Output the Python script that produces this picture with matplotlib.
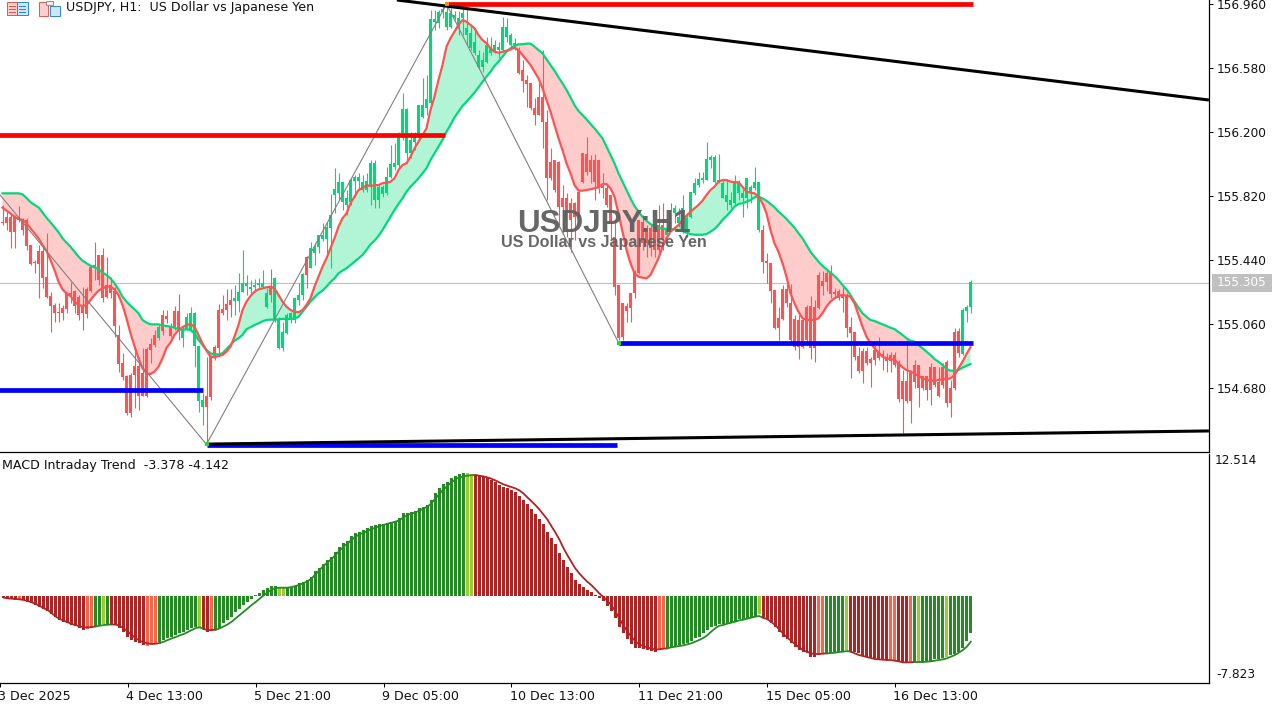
import numpy as np
import matplotlib
matplotlib.use("Agg")
import matplotlib.pyplot as plt
from matplotlib.patches import Rectangle
from matplotlib.transforms import ScaledTranslation

highs = [
155.767,155.725,155.719,155.707,155.761,155.690,155.690,155.529,155.440,155.529,
155.517,155.600,155.250,155.185,155.185,155.173,155.250,155.309,155.262,155.232,
155.280,155.280,155.410,155.547,155.470,155.511,155.458,155.339,155.280,155.054,
154.888,154.757,154.769,154.924,154.864,154.918,154.924,154.977,155.024,155.054,
155.143,155.143,155.066,155.167,155.238,155.042,155.125,155.161,155.131,154.930,
154.650,154.864,154.876,154.935,155.179,155.232,155.268,155.268,155.292,155.363,
155.500,155.351,155.321,155.327,155.333,155.381,155.274,155.387,155.339,155.102,
155.072,155.125,155.131,155.214,155.304,155.363,155.464,155.547,155.541,155.589,
155.660,155.666,155.832,155.986,155.957,155.903,155.856,155.927,155.945,155.957,
155.945,155.957,156.034,156.034,155.885,155.885,155.992,156.123,156.135,156.200,
156.432,156.343,156.200,156.200,156.361,156.521,156.539,156.925,156.925,156.925,
156.948,156.954,156.936,156.919,156.919,156.931,156.931,156.836,156.806,156.687,
156.675,156.764,156.764,156.746,156.735,156.883,156.877,156.788,156.758,156.705,
156.628,156.539,156.491,156.402,156.491,156.687,156.331,156.105,156.034,156.028,
155.885,155.838,155.808,155.784,155.856,156.075,156.171,156.064,156.069,156.034,
155.957,155.885,155.826,155.678,155.292,155.185,155.185,155.244,155.381,155.678,
155.707,155.648,155.648,155.630,155.767,155.779,155.666,155.779,155.767,155.749,
155.826,155.719,155.844,155.927,155.963,155.963,156.141,156.064,156.064,156.069,
155.915,155.915,155.844,155.945,155.915,155.868,155.927,155.885,155.992,155.903,
155.648,155.482,155.422,155.262,155.161,155.292,155.298,155.298,155.113,155.113,
155.084,155.173,155.226,155.203,155.369,155.375,155.381,155.410,155.274,155.268,
155.280,155.244,155.102,155.012,154.924,154.918,154.924,154.864,154.947,154.983,
154.906,154.888,154.894,154.894,154.846,154.787,154.965,154.787,154.846,154.817,
154.751,154.751,154.829,154.805,154.805,154.829,154.846,154.728,155.036,155.036,
155.155,155.173,155.321]

body_tops = [
155.666,155.695,155.695,155.695,155.695,155.678,155.678,155.529,155.428,155.494,
155.494,155.339,155.226,155.173,155.131,155.155,155.244,155.244,155.256,155.220,
155.173,155.268,155.399,155.410,155.470,155.470,155.292,155.292,155.256,154.995,
154.829,154.751,154.757,154.811,154.811,154.769,154.912,154.941,154.995,155.042,
155.113,155.107,155.042,155.137,155.137,155.030,155.102,155.125,155.125,154.930,
154.609,154.633,154.870,154.924,155.143,155.149,155.179,155.203,155.214,155.250,
155.304,155.304,155.280,155.292,155.304,155.304,155.244,155.280,155.333,155.084,
155.012,155.113,155.125,155.214,155.232,155.357,155.458,155.511,155.517,155.589,
155.589,155.636,155.707,155.862,155.903,155.903,155.808,155.915,155.933,155.933,
155.903,155.909,156.016,156.016,155.874,155.874,155.933,156.010,156.016,156.171,
156.337,156.337,156.153,156.176,156.361,156.361,156.396,156.871,156.871,156.913,
156.931,156.913,156.907,156.895,156.877,156.907,156.818,156.788,156.735,156.657,
156.628,156.717,156.699,156.717,156.705,156.824,156.824,156.776,156.729,156.687,
156.568,156.509,156.491,156.343,156.408,156.408,156.260,156.022,156.034,156.022,
155.808,155.808,155.779,155.779,155.844,156.075,156.069,156.034,156.034,156.034,
155.879,155.868,155.826,155.577,155.292,155.185,155.167,155.244,155.369,155.678,
155.666,155.606,155.630,155.606,155.648,155.648,155.618,155.719,155.749,155.695,
155.749,155.690,155.844,155.897,155.921,155.927,156.040,156.052,156.052,155.915,
155.897,155.826,155.796,155.897,155.897,155.838,155.927,155.874,155.903,155.903,
155.618,155.434,155.422,155.262,155.096,155.268,155.268,155.185,155.090,155.084,
155.084,155.161,155.167,155.161,155.351,155.315,155.363,155.363,155.250,155.256,
155.232,155.232,155.042,155.012,154.870,154.900,154.900,154.852,154.906,154.894,
154.882,154.864,154.876,154.876,154.835,154.722,154.722,154.781,154.817,154.817,
154.751,154.751,154.805,154.805,154.716,154.805,154.835,154.680,155.012,155.018,
155.143,155.161,155.309]

body_bottoms = [
155.660,155.660,155.606,155.606,155.678,155.618,155.523,155.416,155.422,155.416,
155.333,155.221,155.167,155.125,155.125,155.125,155.149,155.232,155.167,155.113,
155.125,155.119,155.256,155.399,155.321,155.214,155.221,155.244,155.048,154.823,
154.745,154.532,154.532,154.757,154.633,154.633,154.633,154.906,154.935,154.977,
155.018,155.090,154.989,155.036,155.030,154.977,155.030,155.024,154.930,154.603,
154.567,154.567,154.627,154.858,154.918,155.125,155.143,155.173,155.197,155.197,
155.250,155.286,155.268,155.280,155.292,155.280,155.161,155.232,155.084,154.918,
154.918,155.006,155.084,155.084,155.203,155.232,155.351,155.393,155.482,155.517,
155.565,155.565,155.630,155.826,155.838,155.784,155.767,155.784,155.909,155.909,
155.856,155.856,155.874,155.796,155.796,155.832,155.838,155.933,155.992,156.004,
156.171,156.075,156.075,156.141,156.171,156.289,156.343,156.372,156.853,156.847,
156.913,156.824,156.824,156.877,156.824,156.877,156.776,156.699,156.669,156.586,
156.586,156.616,156.669,156.675,156.687,156.687,156.764,156.717,156.699,156.551,
156.503,156.485,156.343,156.301,156.301,156.260,155.927,155.927,155.856,155.755,
155.755,155.678,155.678,155.695,155.695,155.903,155.963,155.963,155.903,155.868,
155.868,155.767,155.660,155.280,154.977,154.983,155.137,155.155,155.244,155.363,
155.541,155.541,155.511,155.500,155.500,155.559,155.588,155.630,155.719,155.660,
155.618,155.618,155.695,155.838,155.885,155.915,155.915,156.034,155.903,155.903,
155.808,155.784,155.767,155.779,155.838,155.808,155.808,155.838,155.868,155.618,
155.428,155.422,155.256,155.036,155.036,155.090,155.185,154.965,154.924,154.924,
154.924,154.965,154.918,154.918,155.155,155.286,155.309,155.238,155.238,155.214,
155.214,155.036,155.006,154.864,154.781,154.781,154.829,154.829,154.846,154.858,
154.864,154.840,154.840,154.817,154.615,154.615,154.603,154.603,154.716,154.680,
154.680,154.668,154.668,154.698,154.633,154.698,154.591,154.591,154.680,154.888,
154.882,155.137,155.161]

lows = [
155.648,155.618,155.511,155.511,155.666,155.588,155.500,155.410,155.363,155.214,
155.274,155.214,155.012,155.072,155.072,155.084,155.125,155.185,155.125,155.084,
155.024,155.095,155.250,155.321,155.292,155.191,155.214,155.214,154.983,154.775,
154.728,154.520,154.508,154.561,154.549,154.633,154.627,154.829,154.924,154.965,
154.995,155.066,154.983,155.024,154.965,154.924,155.024,155.012,154.805,154.538,
154.460,154.353,154.609,154.846,154.888,155.113,155.084,155.102,155.113,155.131,
155.250,155.232,155.244,155.250,155.274,155.274,155.155,155.191,155.072,154.912,
154.900,155.000,155.066,155.066,155.173,155.203,155.274,155.393,155.410,155.482,
155.553,155.482,155.393,155.719,155.796,155.737,155.707,155.767,155.814,155.856,
155.844,155.844,155.767,155.749,155.749,155.814,155.826,155.927,155.975,155.986,
156.153,156.016,156.046,156.093,156.165,156.283,156.301,156.361,156.806,156.818,
156.877,156.806,156.818,156.865,156.776,156.776,156.717,156.687,156.657,156.580,
156.556,156.610,156.657,156.669,156.640,156.675,156.735,156.687,156.687,156.545,
156.438,156.349,156.331,156.242,156.301,156.105,155.796,155.915,155.844,155.636,
155.600,155.577,155.488,155.559,155.695,155.897,155.945,155.897,155.796,155.838,
155.808,155.755,155.559,155.232,154.965,154.965,155.072,155.072,155.214,155.357,
155.500,155.458,155.464,155.458,155.464,155.500,155.577,155.618,155.660,155.636,
155.600,155.577,155.690,155.826,155.874,155.897,155.915,155.986,155.897,155.897,
155.808,155.737,155.749,155.767,155.796,155.695,155.749,155.779,155.856,155.606,
155.363,155.304,155.185,155.030,154.965,155.084,155.161,154.953,154.906,154.852,
154.918,154.935,154.852,154.835,155.149,155.232,155.256,155.214,155.214,155.203,
155.131,154.983,154.739,154.846,154.769,154.710,154.817,154.686,154.817,154.846,
154.787,154.775,154.775,154.805,154.597,154.413,154.591,154.472,154.680,154.567,
154.668,154.609,154.579,154.686,154.627,154.680,154.567,154.508,154.668,154.864,
154.876,155.072,155.125]

# spans of bullish candles (first, last)
up_spans = [(39,39),(45,50),(58,66),(68,75),(77,128),(166,166),(168,189),(240,242)]

fast_ma = [
155.751,155.733,155.717,155.697,155.684,155.678,155.658,155.628,155.599,155.569,
155.529,155.494,155.440,155.381,155.311,155.266,155.242,155.226,155.193,155.173,
155.167,155.173,155.203,155.232,155.258,155.272,155.282,155.282,155.266,155.232,
155.173,155.094,155.005,154.929,154.856,154.797,154.767,154.763,154.777,154.806,
154.856,154.919,154.949,154.995,155.024,155.041,155.054,155.060,155.044,154.995,
154.945,154.902,154.866,154.862,154.870,154.876,154.896,154.925,154.985,155.054,
155.143,155.193,155.226,155.252,155.266,155.272,155.278,155.282,155.272,155.232,
155.193,155.163,155.143,155.133,155.130,155.143,155.173,155.213,155.282,155.341,
155.400,155.450,155.510,155.569,155.638,155.688,155.717,155.777,155.816,155.856,
155.866,155.885,155.879,155.885,155.885,155.896,155.899,155.905,155.925,155.975,
156.004,156.014,156.054,156.103,156.143,156.182,156.222,156.331,156.410,156.509,
156.598,156.707,156.757,156.796,156.836,156.865,156.855,156.836,156.816,156.776,
156.746,156.727,156.697,156.677,156.671,156.677,156.683,156.691,156.701,156.687,
156.657,156.628,156.598,156.558,156.519,156.460,156.390,156.321,156.242,156.163,
156.093,156.014,155.955,155.885,155.852,155.852,155.856,155.860,155.866,155.872,
155.891,155.891,155.866,155.816,155.717,155.608,155.500,155.421,155.361,155.341,
155.335,155.331,155.351,155.400,155.450,155.519,155.569,155.608,155.628,155.648,
155.678,155.703,155.727,155.747,155.767,155.792,155.826,155.856,155.875,155.905,
155.915,155.915,155.905,155.903,155.901,155.875,155.846,155.840,155.836,155.816,
155.777,155.717,155.618,155.539,155.489,155.421,155.341,155.242,155.183,155.133,
155.094,155.084,155.084,155.084,155.094,155.124,155.163,155.193,155.213,155.228,
155.232,155.228,155.222,155.183,155.113,155.044,154.985,154.945,154.916,154.890,
154.866,154.856,154.852,154.846,154.827,154.803,154.787,154.777,154.767,154.751,
154.738,154.728,154.723,154.723,154.728,154.732,154.732,154.738,154.757,154.797,
154.836,154.882,154.922]

slow_ma = [
155.836,155.836,155.836,155.836,155.836,155.830,155.808,155.784,155.767,155.753,
155.723,155.691,155.664,155.634,155.605,155.569,155.543,155.519,155.489,155.460,
155.436,155.421,155.406,155.397,155.385,155.365,155.351,155.331,155.302,155.266,
155.222,155.193,155.169,155.147,155.124,155.084,155.068,155.058,155.058,155.058,
155.052,155.048,155.044,155.038,155.030,155.024,155.029,155.024,155.005,154.965,
154.935,154.906,154.886,154.880,154.880,154.886,154.912,154.935,154.961,154.975,
154.995,155.029,155.041,155.054,155.064,155.076,155.084,155.086,155.086,155.088,
155.090,155.090,155.090,155.092,155.103,155.133,155.163,155.193,155.219,155.242,
155.258,155.282,155.309,155.331,155.361,155.377,155.391,155.410,155.430,155.450,
155.470,155.500,155.533,155.555,155.583,155.618,155.658,155.697,155.737,155.773,
155.806,155.846,155.875,155.899,155.925,155.955,155.985,156.034,156.074,156.113,
156.153,156.202,156.242,156.287,156.321,156.355,156.380,156.406,156.434,156.466,
156.499,156.529,156.558,156.592,156.618,156.647,156.677,156.697,156.711,156.721,
156.721,156.725,156.725,156.707,156.687,156.668,156.632,156.598,156.564,156.525,
156.489,156.450,156.406,156.360,156.325,156.301,156.276,156.248,156.222,156.192,
156.163,156.113,156.064,156.014,155.955,155.905,155.856,155.806,155.761,155.727,
155.697,155.672,155.654,155.638,155.632,155.628,155.624,155.622,155.622,155.618,
155.612,155.602,155.594,155.590,155.590,155.590,155.594,155.608,155.624,155.648,
155.678,155.701,155.727,155.757,155.773,155.777,155.786,155.796,155.812,155.816,
155.806,155.792,155.773,155.753,155.727,155.707,155.684,155.658,155.632,155.599,
155.569,155.529,155.489,155.460,155.430,155.405,155.385,155.365,155.345,155.321,
155.292,155.266,155.232,155.193,155.157,155.124,155.103,155.084,155.078,155.068,
155.058,155.048,155.038,155.030,155.012,154.995,154.975,154.961,154.955,154.935,
154.916,154.896,154.876,154.852,154.836,154.817,154.793,154.783,154.783,154.787,
154.801,154.812,154.822]

macd_hist = [
-0.24,-0.30,-0.33,-0.36,-0.36,-0.42,-0.54,-0.69,-0.84,-1.02,
-1.20,-1.35,-1.65,-1.95,-2.19,-2.34,-2.49,-2.64,-2.73,-2.88,
-3.09,-2.97,-2.88,-2.70,-2.64,-2.58,-2.58,-2.52,-2.64,-2.94,
-3.24,-3.69,-3.99,-4.20,-4.29,-4.44,-4.50,-4.38,-4.29,-4.14,
-3.99,-3.84,-3.69,-3.54,-3.39,-3.24,-3.09,-2.94,-2.85,-2.79,
-3.00,-3.30,-3.18,-3.00,-2.88,-2.49,-2.19,-1.89,-1.50,-1.20,
-0.84,-0.54,-0.30,0.06,0.27,0.51,0.72,0.87,0.87,0.72,
0.75,0.72,0.81,0.90,1.11,1.26,1.41,1.71,2.22,2.52,
2.85,3.21,3.51,3.96,4.41,4.71,4.95,5.37,5.61,5.70,
5.91,6.12,6.30,6.36,6.42,6.48,6.57,6.66,6.75,6.96,
7.41,7.41,7.50,7.62,7.86,8.01,8.16,8.61,9.21,9.66,
10.05,10.26,10.56,10.77,10.92,11.01,11.01,10.80,10.86,10.77,
10.65,10.56,10.41,10.26,9.96,9.75,9.66,9.51,9.36,9.00,
8.61,8.25,7.80,7.35,6.90,6.45,5.76,5.22,4.65,3.87,
3.21,2.61,2.07,1.41,1.05,0.81,0.51,0.33,0.09,-0.24,
-0.45,-0.90,-1.35,-1.98,-2.79,-3.33,-3.93,-4.38,-4.68,-4.74,
-4.80,-4.89,-4.95,-5.04,-4.89,-4.74,-4.68,-4.59,-4.53,-4.44,
-4.38,-4.29,-4.08,-3.84,-3.69,-3.39,-3.09,-2.79,-2.70,-2.58,
-2.55,-2.46,-2.34,-2.25,-2.13,-2.10,-2.04,-1.98,-1.86,-1.68,
-1.92,-2.13,-2.49,-2.79,-3.24,-3.69,-3.90,-4.23,-4.59,-4.89,
-5.04,-5.19,-5.49,-5.49,-5.34,-5.25,-5.19,-5.13,-5.10,-5.04,
-5.04,-4.89,-5.04,-5.10,-5.19,-5.43,-5.49,-5.64,-5.70,-5.79,
-5.79,-5.79,-5.70,-5.79,-5.85,-5.94,-6.09,-5.94,-5.94,-5.94,
-5.94,-5.88,-5.85,-5.73,-5.70,-5.64,-5.49,-5.34,-5.25,-5.04,
-4.74,-4.08,-3.378]

macd_signal = [
-0.18,-0.24,-0.27,-0.30,-0.33,-0.39,-0.48,-0.60,-0.75,-0.93,
-1.14,-1.29,-1.59,-1.89,-2.10,-2.25,-2.40,-2.55,-2.64,-2.76,
-2.85,-2.85,-2.82,-2.76,-2.70,-2.64,-2.61,-2.58,-2.61,-2.70,
-2.94,-3.24,-3.54,-3.84,-4.05,-4.20,-4.29,-4.35,-4.32,-4.26,
-4.14,-3.99,-3.84,-3.72,-3.57,-3.45,-3.27,-3.09,-2.91,-2.85,
-3.00,-3.09,-3.09,-3.06,-2.94,-2.76,-2.58,-2.34,-2.04,-1.74,
-1.44,-1.14,-0.84,-0.57,-0.27,0.03,0.33,0.57,0.69,0.72,
0.72,0.72,0.78,0.87,0.99,1.14,1.29,1.56,1.92,2.31,
2.70,3.00,3.30,3.66,4.05,4.41,4.71,5.01,5.31,5.52,
5.67,5.82,6.00,6.12,6.27,6.36,6.48,6.57,6.66,6.81,
7.05,7.26,7.38,7.50,7.65,7.86,8.01,8.31,8.76,9.15,
9.57,9.87,10.20,10.47,10.65,10.74,10.80,10.86,10.86,10.80,
10.74,10.65,10.53,10.38,10.20,10.02,9.90,9.78,9.66,9.48,
9.21,8.85,8.52,8.16,7.77,7.32,6.87,6.27,5.70,5.07,
4.32,3.66,3.06,2.46,2.01,1.62,1.26,0.96,0.60,0.21,
-0.09,-0.45,-0.84,-1.38,-2.04,-2.64,-3.18,-3.69,-4.08,-4.38,
-4.53,-4.65,-4.77,-4.83,-4.83,-4.77,-4.74,-4.65,-4.59,-4.53,
-4.47,-4.38,-4.29,-4.14,-3.99,-3.81,-3.57,-3.24,-2.94,-2.70,
-2.64,-2.52,-2.43,-2.34,-2.22,-2.16,-2.07,-1.98,-1.89,-1.83,
-1.98,-2.10,-2.34,-2.64,-3.00,-3.39,-3.75,-4.05,-4.35,-4.65,
-4.89,-5.04,-5.19,-5.25,-5.25,-5.22,-5.19,-5.16,-5.13,-5.07,
-5.04,-4.98,-5.04,-5.19,-5.34,-5.43,-5.52,-5.61,-5.70,-5.73,
-5.76,-5.79,-5.79,-5.85,-5.91,-6.00,-6.00,-6.00,-5.97,-5.97,
-5.97,-5.94,-5.91,-5.85,-5.79,-5.73,-5.64,-5.49,-5.34,-5.13,
-4.89,-4.59,-4.142]

# falling-trend spans of the MACD panel, and the bars with the lighter shades
macd_down_spans = [(0,22),(27,38),(50,52),(118,165),(190,205),(212,227)]
tomato_bars = [4,21,22,36,37,38,52,164,165,204,205,222,223,227]
lime_bars = [25,49,69,70,116,117,189,211,229,236]

price_ticks = [156.960,156.580,156.200,155.820,155.440,155.060,154.680]
macd_limits = [12.514,-7.823]
date_ticks = [-1,31,63,95,127,159,191,223]
date_labels = ['3 Dec 2025','4 Dec 13:00','5 Dec 21:00','9 Dec 05:00','10 Dec 13:00',
               '11 Dec 21:00','15 Dec 05:00','16 Dec 13:00']
last_price = 155.305

# chart objects: (first bar, price, last bar, price)
trend_top = (98.6,156.984,301.6,156.390)
trend_bottom = (51,154.347,301.6,154.425)
red_levels = [(111,156.960,242.5),(-1,156.181,110.5)]
blue_levels = [(-1,154.666,50.2),(51,154.342,153.5),(154,154.950,242.5)]
zigzag_bars = [-0.6,51,111,154]
zigzag_prices = [155.826,154.345,156.960,154.950]

W,H = 1285,708
RED,GREEN = '#FF5252','#00D97A'
plt.rcParams['font.family'] = ['DejaVu Sans']
FS = 8.7
FT = 9.1
fig = plt.figure(figsize=(W/100,H/100),dpi=100,facecolor='white')
x0,x1 = -0.625,301.625
ax = fig.add_axes([0,1-451.5/H,1209/W,451.5/H])
mx = fig.add_axes([0,1-683/H,1209/W,(683-454)/H])
for a in (ax,mx):
    a.set_xlim(x0,x1)
    for s in ('left','top'):
        a.spines[s].set_visible(False)
    a.spines['right'].set_linewidth(0.9)
    a.spines['bottom'].set_linewidth(0.9)
ax.set_ylim(154.303,156.984)
mx.set_ylim(-7.858,12.754)

n = len(highs)
x = np.arange(n)
for name,arr in [('body_tops',body_tops),('body_bottoms',body_bottoms),('lows',lows),
                 ('fast',fast_ma),('slow',slow_ma),('hist',macd_hist),('sig',macd_signal)]:
    if len(arr)!=n:
        raise SystemExit(f'{name} has {len(arr)} not {n}')
hi,lo,bt,bb = map(np.array,(highs,lows,body_tops,body_bottoms))
fast,slow = np.array(fast_ma),np.array(slow_ma)

ax.axhline(last_price,color='#C0C0C0',lw=0.8,zorder=1)
ax.fill_between(x,fast,slow,where=fast>=slow,interpolate=True,color='#B2F5D6',lw=0,zorder=2)
ax.fill_between(x,fast,slow,where=fast<slow,interpolate=True,color='#FFCCCC',lw=0,zorder=2)

up = np.zeros(n,bool)
for a,b in up_spans:
    up[a:b+1] = True
cols = [GREEN if u else RED for u in up]
ax.vlines(x,lo,hi,colors=cols,lw=0.8,zorder=3)
ax.bar(x,np.maximum(bt-bb,0.006),bottom=bb,width=0.75,color=cols,lw=0,zorder=3)

ax.plot(x,slow,color=GREEN,lw=1.6,zorder=4)
ax.plot(x,fast,color=RED,lw=1.6,zorder=5)

ax.plot(zigzag_bars,zigzag_prices,color='#808080',lw=0.8,zorder=5)
ax.plot(zigzag_bars[1::2],zigzag_prices[1::2],'s',color='#22DD22',ms=2.6,mew=0,zorder=8)
ax.plot(zigzag_bars[2],zigzag_prices[2],'s',color='#FF8C00',ms=3,mew=0,zorder=8)
for a,p,b in red_levels:
    ax.plot([a,b],[p,p],color='#FF0000',lw=3.4,solid_capstyle='butt',zorder=6)
for a,p,b in blue_levels:
    ax.plot([a,b],[p,p],color='#0000FF',lw=3.4,solid_capstyle='butt',zorder=6)
for a,p,b,q in (trend_top,trend_bottom):
    ax.plot([a,b],[p,q],color='black',lw=2.2,solid_capstyle='butt',zorder=7)

ax.set_xticks([])
ax.yaxis.tick_right()
ax.set_yticks(price_ticks)
ax.set_yticklabels([f'{t:.3f}' for t in price_ticks],fontsize=FS,color='#111111')
ax.tick_params(axis='y',length=4*0.72,width=0.75,pad=2.6)

# watermark
ax.text(0.4995,1-224/451.5,'USDJPY:H1',transform=ax.transAxes,ha='center',va='center',
        family='Liberation Sans',weight='bold',fontsize=22.6,color='#5F5F5F',alpha=0.95,zorder=9)
ax.text(0.4995,1-242.3/451.5,'US Dollar vs Japanese Yen',transform=ax.transAxes,ha='center',va='center',
        family='Liberation Sans',weight='bold',fontsize=11.6,color='#5F5F5F',alpha=0.95,zorder=9)

# MACD
hist = np.array(macd_hist)
sig = np.array(macd_signal)
down = np.zeros(n,bool)
for a,b in macd_down_spans:
    down[a:b+1] = True
hcol = np.array(['#B22222' if d else '#228B22' for d in down],dtype=object)
hcol[tomato_bars] = '#FF6347'
hcol[lime_bars] = '#9ACD32'
mx.bar(x,hist,width=0.75,color=list(hcol),lw=0,zorder=2)
edges = [0]+[i for i in range(1,n) if down[i]!=down[i-1]]+[n]
for a,b in zip(edges[:-1],edges[1:]):
    end = min(b+1,n)
    mx.plot(x[a:end],sig[a:end],color='#B22222' if down[a] else '#228B22',lw=1.3,zorder=3)
mx.set_yticks([])
mx.set_xticks(date_ticks)
mx.set_xticklabels(date_labels,fontsize=FT,ha='left',color='#111111')
mx.tick_params(axis='x',length=4*0.72,width=0.75,pad=2.5)
shift = ScaledTranslation(-1.5/100,0,fig.dpi_scale_trans)
for lbl in mx.get_xticklabels():
    lbl.set_transform(lbl.get_transform()+shift)

# right-hand labels of the MACD panel
def px_text(xp,yp,s,**kw):
    return fig.text(xp/W,1-yp/H,s,va='center',**kw)
px_text(1215,461,f'{macd_limits[0]:.3f}',fontsize=FS,color='#111111')
px_text(1216,675,f'{macd_limits[1]:.3f}',fontsize=FS,color='#111111')
px_text(2,466,'MACD Intraday Trend  -3.378 -4.142',fontsize=FT,color='#111111')
px_text(66,8,'USDJPY, H1:  US Dollar vs Japanese Yen',fontsize=FT,color='#111111')

# last price box
fig.patches.append(Rectangle((1212/W,1-291.5/H),60/W,17.5/H,transform=fig.transFigure,
                             facecolor='#C0C0C0',edgecolor='none'))
px_text(1217,283,f'{last_price:.3f}',fontsize=FS,color='white',zorder=5)

# toolbar icons
def box(xp,yp,w,h,fc,ec='none',lw=0.7):
    fig.patches.append(Rectangle((xp/W,1-(yp+h)/H),w/W,h/H,transform=fig.transFigure,
                                 facecolor=fc,edgecolor=ec,linewidth=lw,zorder=10))
box(7,2,10,13,'#FBD0CC','#E2574C')
box(17,2,11,13,'#CFE6F8','#2E86C8')
for yy in (6,9,12):
    box(9,yy,7,1,'#E2574C')
    box(19,yy,7,1,'#2E86C8')
box(39,2,9,14,'#FBD0CC','#E2574C')
box(50,6,10,10,'#CFE6F8','#2E86C8')
box(46,1,7,4,'#EEEEEE','#909090')

fig.savefig('out.png',dpi=100)
